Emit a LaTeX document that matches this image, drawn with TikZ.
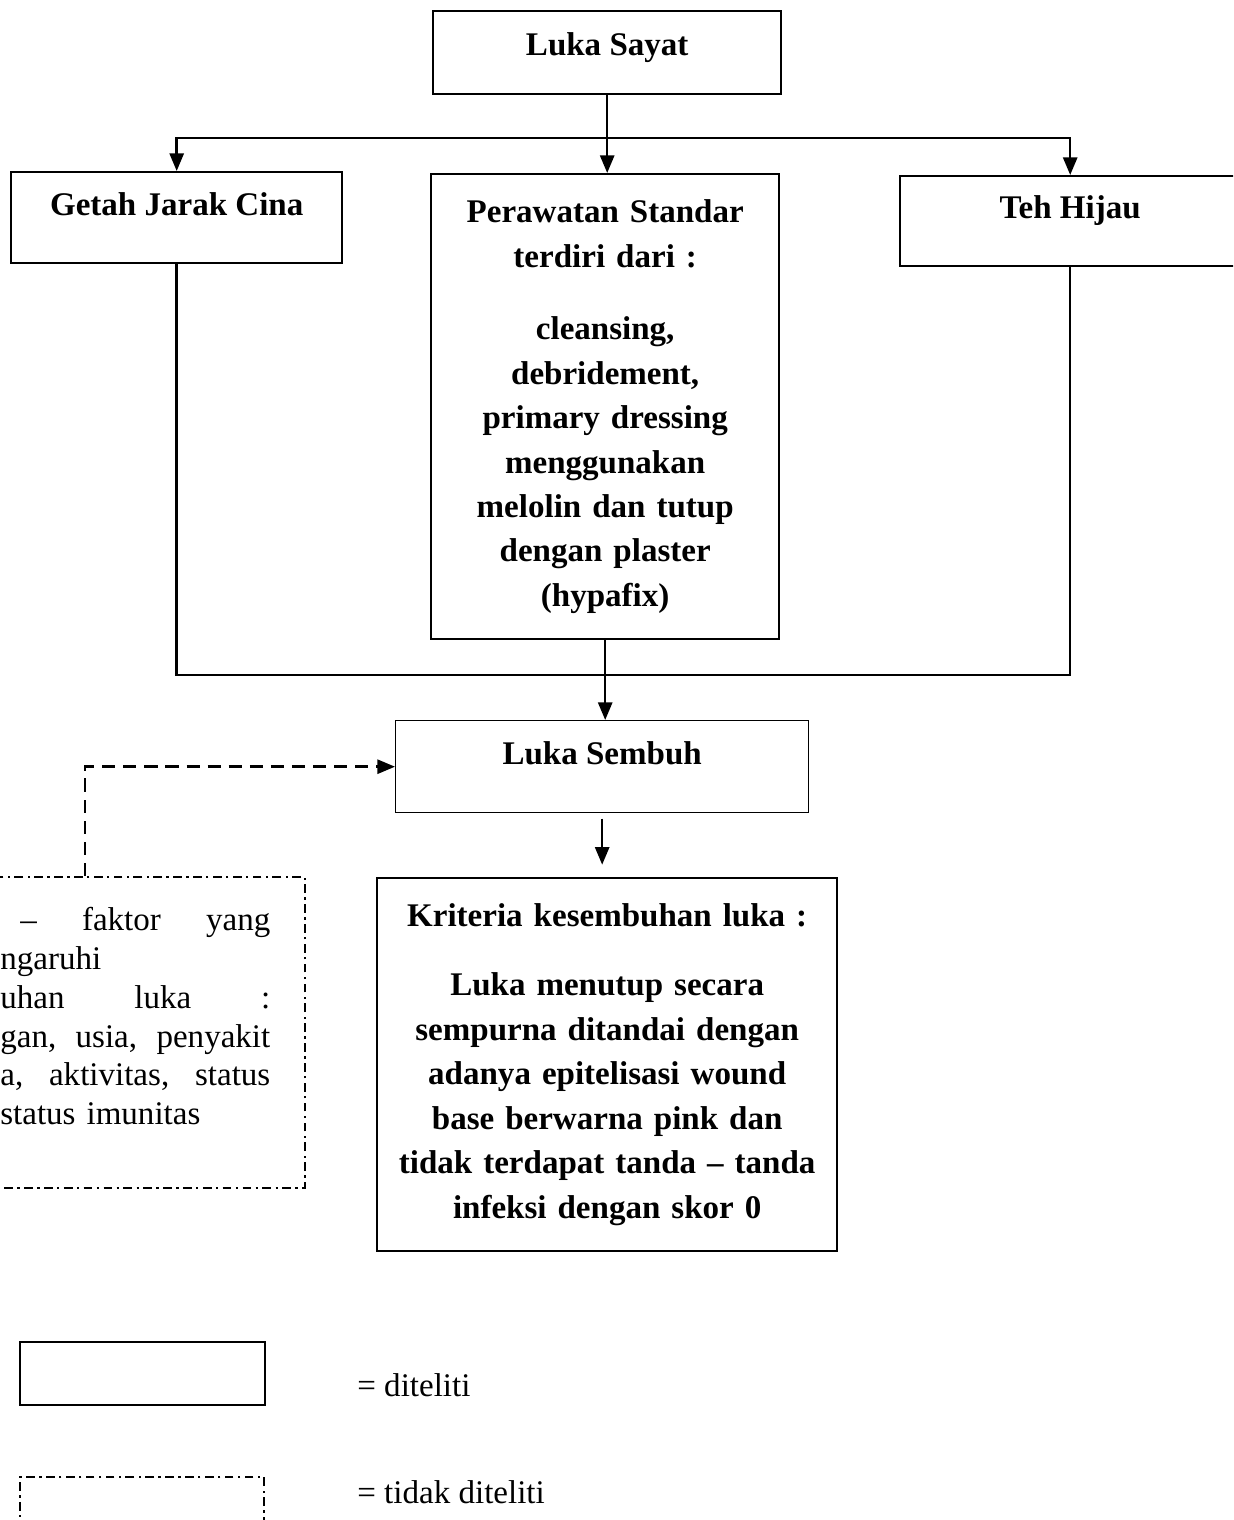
\documentclass[tikz,border=0pt]{standalone}
\usepackage{fontspec}
\setmainfont{Liberation Serif}
\usetikzlibrary{arrows.meta, positioning, calc}

\tikzset{
  box/.style={draw, line width=1.4pt, font=\fontsize{18.8}{25.3}\selectfont\bfseries,
              align=center, inner sep=0pt},
  uptext/.style={text height=0.46cm, text depth=0.56cm},
  dashdotbox/.style={draw, line width=1.2pt, dash pattern=on 5pt off 2.5pt on 1.3pt off 2.5pt,
                     inner sep=0pt},
  arr/.style={line width=1.4pt, -{Triangle[length=10pt,width=8pt]}},
  link/.style={line width=1.4pt},
  dasharr/.style={line width=1.4pt, dash pattern=on 7.5pt off 4.5pt, -{Triangle[length=10pt,width=8pt]}},
  plain/.style={font=\fontsize{18.8}{22.1}\selectfont, inner sep=0pt},
}

\begin{document}
\begin{tikzpicture}[x=0.02cm, y=-0.02cm]
  \useasboundingbox (0,0) rectangle (1233,1520);
  \clip (0,0) rectangle (1233,1520);

  \node[box, anchor=north west, minimum width=6.96cm, minimum height=1.66cm,
        text height=0.46cm, text depth=0.36cm] (sayat) at (432,10) {Luka Sayat};
  \node[box, uptext, anchor=north west, minimum width=6.62cm, minimum height=1.82cm] (getah) at (10,171) {Getah Jarak Cina};
  \node[box, anchor=north west, minimum width=6.96cm, minimum height=9.3cm, text width=6.6cm] (rawat) at (430,173)
    {Perawatan Standar\\ terdiri dari :\\[16pt] cleansing,\\ debridement,\\ primary dressing\\ menggunakan\\
     melolin dan tutup\\ dengan plaster\\ (hypafix)};
  \node[box, uptext, anchor=north west, minimum width=6.8cm, minimum height=1.8cm] (teh) at (899,175) {Teh Hijau};

  \coordinate (cabang) at (607,138);
  \coordinate (gabung) at (604,675);

  \draw[arr] (sayat.south) -- (sayat.south |- rawat.north);
  \draw[link, {Triangle[length=10pt,width=8pt]}-{Triangle[length=10pt,width=8pt]}] (getah.north) |- (cabang) -| (teh.north);
  \draw[link] (getah.south) |- (gabung) -| (teh.south);

  \node[box, uptext, line width=0.8pt, anchor=north west, minimum width=8.26cm, minimum height=1.84cm] (sembuh) at (395,720) {Luka Sembuh};
  \node[box, anchor=north west, minimum width=9.2cm, minimum height=7.46cm, text width=9cm] (kriteria) at (376,877)
    {Kriteria kesembuhan luka :\\[14pt] Luka menutup secara\\ sempurna ditandai dengan\\ adanya epitelisasi wound\\
     base berwarna pink dan\\ tidak terdapat tanda -- tanda\\ infeksi dengan skor 0};

  \draw[arr] (rawat.south) -- (rawat.south |- sembuh.north);
  \draw[arr, shorten <=3pt, shorten >=7pt] (sembuh.south) -- (sembuh.south |- kriteria.north);

  % faktor yang tidak diteliti
  \node[dashdotbox, anchor=north east, minimum width=8cm, minimum height=6.22cm] (faktorbox) at (306,876) {};
  \node[plain, anchor=north west, text width=5.4cm, align=left] (faktor) at (0,907)
    {\hspace*{0.4cm}\makebox[5cm]{--\hfill faktor\hfill yang}\\
     ngaruhi\\
     \makebox[5.4cm]{uhan\hfill luka\hfill :}\\
     \makebox[5.4cm]{gan,\hfill usia,\hfill penyakit}\\
     \makebox[5.4cm]{a,\hfill aktivitas,\hfill status}\\
     status imunitas};
  \coordinate (faktorup) at (85,876);
  \draw[dasharr] (faktorup) |- (sembuh.west);

  % keterangan
  \node[draw, line width=1.4pt, inner sep=0pt, anchor=north west, minimum width=4.9cm, minimum height=1.26cm] (legya) at (19,1341) {};
  \node[plain, anchor=base west] (ketya) at (357,1396) {= diteliti};
  \node[dashdotbox, anchor=north west, minimum width=4.88cm, minimum height=1.26cm] (legtidak) at (19,1476) {};
  \node[plain, anchor=base west] (kettidak) at (357,1503) {= tidak diteliti};
\end{tikzpicture}
\end{document}
